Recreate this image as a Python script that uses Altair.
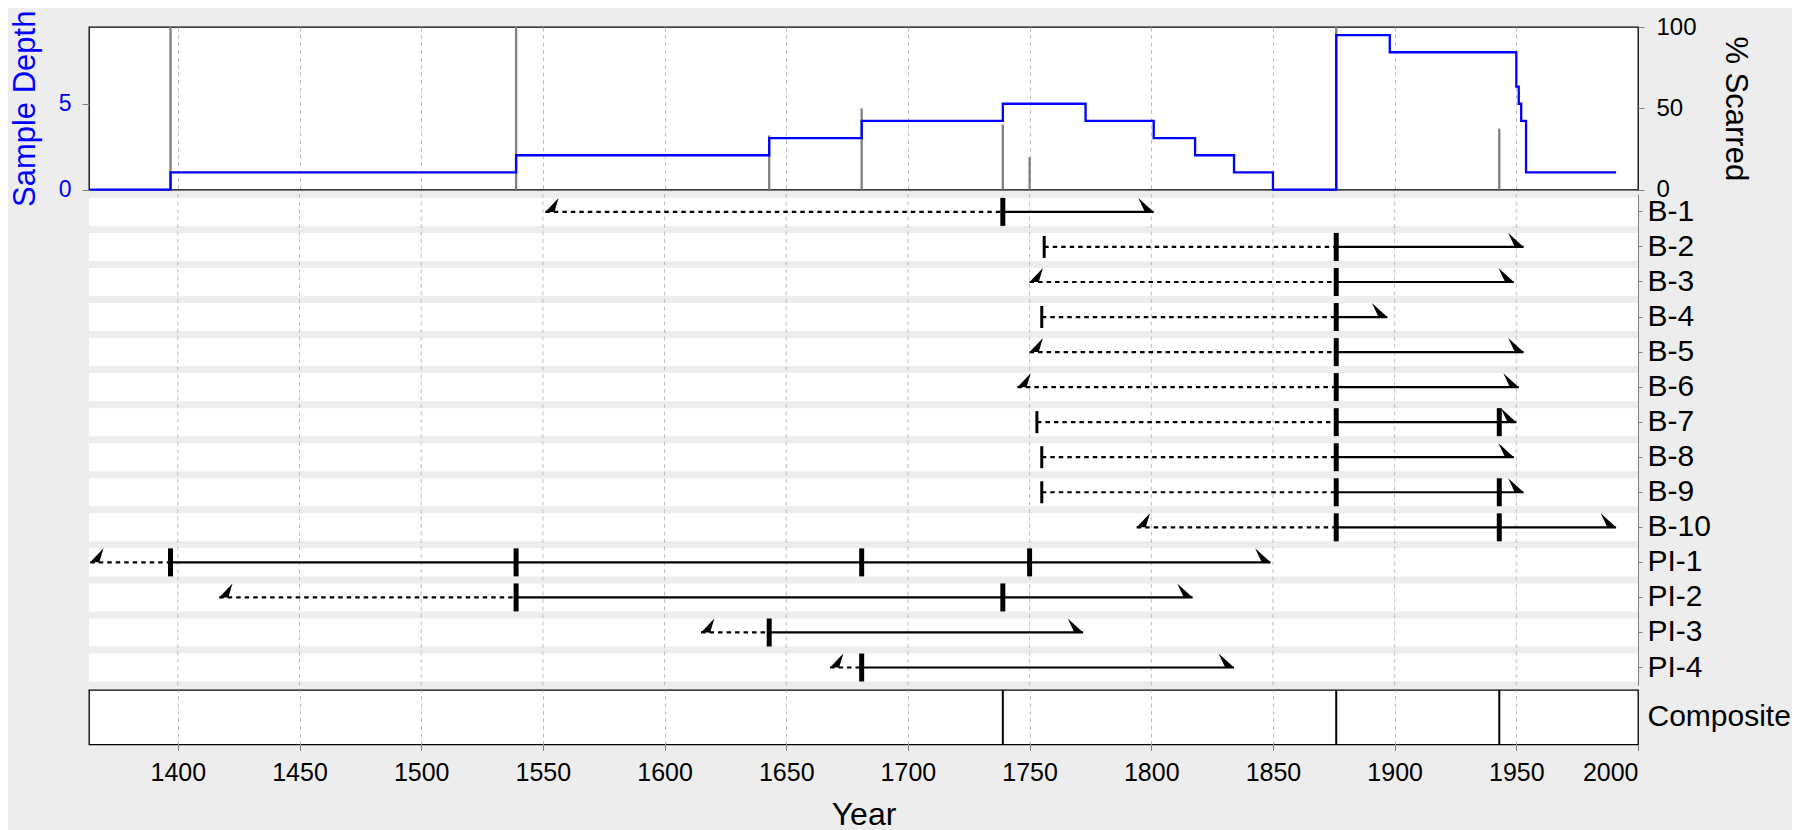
import altair as alt
import pandas as pd

# ---------------- data ----------------
series = ["B-1", "B-2", "B-3", "B-4", "B-5", "B-6", "B-7", "B-8", "B-9", "B-10",
          "PI-1", "PI-2", "PI-3", "PI-4"]
first_year = [1551, 1756, 1750, 1755, 1750, 1745, 1753, 1755, 1755, 1794,
              1364, 1417, 1615, 1668]
first_type = ["inner", "pith", "inner", "pith", "inner", "inner", "pith", "pith", "pith", "inner",
              "inner", "inner", "inner", "inner"]
recorder_start = [1739, 1876, 1876, 1876, 1876, 1876, 1876, 1876, 1876, 1876,
                  1397, 1539, 1643, 1681]
last_year = [1801, 1953, 1949, 1897, 1953, 1951, 1950, 1949, 1953, 1991,
             1849, 1817, 1772, 1834]

scar_series = ["B-1", "B-2", "B-3", "B-4", "B-5", "B-6", "B-7", "B-8", "B-9", "B-10",
               "B-7", "B-9", "B-10",
               "PI-1", "PI-1", "PI-1", "PI-1", "PI-2", "PI-2", "PI-3", "PI-4"]
scar_year = [1739, 1876, 1876, 1876, 1876, 1876, 1876, 1876, 1876, 1876,
             1943, 1943, 1943,
             1397, 1539, 1681, 1750, 1539, 1739, 1643, 1681]

depth_year = [1364, 1397, 1539, 1643, 1681, 1739, 1773, 1801, 1818, 1834, 1850,
              1876, 1898, 1950, 1951, 1952, 1954, 1991]
depth_value = [0, 1, 2, 3, 4, 5, 4, 3, 2, 1, 0, 9, 8, 6, 5, 4, 1, 1]

pct_year = [1397, 1539, 1643, 1681, 1739, 1750, 1876, 1943]
pct_value = [100, 100, 33.3, 50, 40, 20, 100, 37.5]

composite_year = [1739, 1876, 1943]

x_ticks = [1400, 1450, 1500, 1550, 1600, 1650, 1700, 1750, 1800, 1850, 1900, 1950, 2000]
x_domain = [1363.5, 2000]

# ---------------- styling ----------------
W = 1549
BG = "#EDEDED"
GRID = "#BEBEBE"
TICKC = "#7F7F7F"
FONT = "Liberation Sans"
DASH = [4.5, 4]
# hide the gridline that would sit on the right border of the boxed panels
GRID_OPACITY = {"condition": {"test": "datum.value >= 2000", "value": 0}, "value": 1}

x_scale = alt.Scale(domain=x_domain, nice=False, zero=False)
grid_axis = alt.Axis(values=x_ticks, labels=False, ticks=False, domain=False, grid=True,
                     gridDash=[4, 3.5], gridColor=GRID, gridWidth=1,
                     gridOpacity=GRID_OPACITY, title=None)

# ---------------- top panel: sample depth + % scarred ----------------
depth_df = pd.DataFrame({"year": depth_year, "depth": depth_value})
pct_df = pd.DataFrame({"year": pct_year, "pct": pct_value, "base": [0] * len(pct_year)})

pct_rules = alt.Chart(pct_df).mark_rule(color="#808080", strokeWidth=2.3).encode(
    x=alt.X("year:Q", scale=x_scale, axis=grid_axis),
    y=alt.Y("pct:Q", scale=alt.Scale(domain=[0, 100], nice=False),
            axis=alt.Axis(orient="right", values=[0, 50, 100], title="% Scarred",
                          titleAngle=90, titleFontSize=31, titlePadding=22,
                          labelFontSize=24, labelPadding=12, tickSize=6,
                          tickColor=TICKC, domain=False, grid=False)),
    y2="base:Q",
)

depth_line = alt.Chart(depth_df).mark_line(interpolate="step-after", color="#0000FF",
                                           strokeWidth=2.3).encode(
    x=alt.X("year:Q", scale=x_scale, axis=grid_axis),
    y=alt.Y("depth:Q", scale=alt.Scale(domain=[0, 9.47], nice=False),
            axis=alt.Axis(orient="left", values=[0, 5], title="Sample Depth",
                          titleColor="#0000FF", labelColor="#0000FF",
                          titleFontSize=31, titlePadding=17,
                          labelFontSize=23, labelPadding=11, tickSize=7,
                          tickColor=TICKC, domain=False, grid=False)),
)

top = alt.layer(pct_rules, depth_line).resolve_scale(y="independent").properties(
    width=W, height=162.6,
    view=alt.ViewBackground(fill="white", stroke="black", strokeWidth=1.3),
)

# ---------------- middle panel: series ----------------
ser_df = pd.DataFrame({"series": series, "first": first_year, "ftype": first_type,
                       "rec": recorder_start, "last": last_year})
scar_df = pd.DataFrame({"series": scar_series, "year": scar_year})
tick_df = pd.DataFrame({"year": x_ticks})

y_enc = alt.Y("series:N", sort=series,
              scale=alt.Scale(paddingInner=0.2, paddingOuter=0.11),
              axis=alt.Axis(orient="right", title=None, labelFontSize=30, labelPadding=5,
                            tickSize=4, tickColor=TICKC, domainColor=TICKC, labelColor="black"))

bands = alt.Chart(ser_df).mark_rect(color="white").encode(
    x=alt.value(0), x2=alt.value(W), y=y_enc)

grid_mid = alt.Chart(tick_df).transform_filter(alt.datum.year < 2000).mark_rule(
    color=GRID, strokeDash=[4, 3.5], strokeWidth=1).encode(
    x=alt.X("year:Q", scale=x_scale, axis=None))

null_lines = alt.Chart(ser_df).mark_rule(color="black", strokeWidth=2.2, strokeDash=DASH).encode(
    x=alt.X("first:Q", scale=x_scale, axis=None), x2="rec:Q", y=y_enc)

rec_lines = alt.Chart(ser_df).mark_rule(color="black", strokeWidth=2.2).encode(
    x=alt.X("rec:Q", scale=x_scale, axis=None), x2="last:Q", y=y_enc)

scars = alt.Chart(scar_df).mark_tick(color="black", thickness=5, size=28, opacity=1).encode(
    x=alt.X("year:Q", scale=x_scale, axis=None), y=y_enc)

piths = alt.Chart(ser_df).transform_filter(alt.datum.ftype == "pith").mark_tick(
    color="black", thickness=3, size=22, opacity=1).encode(
    x=alt.X("first:Q", scale=x_scale, axis=None), y=y_enc)

inner = alt.Chart(ser_df).transform_filter(alt.datum.ftype == "inner").mark_point(
    shape="M0,0L0.95,-1L0.65,0Z", size=784, filled=True, color="black", opacity=1,
    strokeWidth=0).encode(
    x=alt.X("first:Q", scale=x_scale, axis=None), y=y_enc)

outer = alt.Chart(ser_df).mark_point(
    shape="M0,0L-1.1,-1L-0.63,0Z", size=784, filled=True, color="black", opacity=1,
    strokeWidth=0).encode(
    x=alt.X("last:Q", scale=x_scale, axis=None), y=y_enc)

middle = alt.layer(bands, grid_mid, null_lines, rec_lines, scars, piths, inner, outer).properties(
    width=W, height=491.4,
    view=alt.ViewBackground(fill="transparent", stroke="transparent"),
)

# ---------------- bottom panel: composite ----------------
comp_df = pd.DataFrame({"year": composite_year})
label_df = pd.DataFrame({"label": ["Composite"]})

comp_label = alt.Chart(label_df).mark_rect(opacity=0).encode(
    x=alt.value(0), x2=alt.value(W),
    y=alt.Y("label:N", scale=alt.Scale(paddingInner=0, paddingOuter=0),
            axis=alt.Axis(orient="right", title=None, labelFontSize=30, labelPadding=9,
                          ticks=False, domain=False, labelColor="black")),
)

comp_rules = alt.Chart(comp_df).mark_rule(color="black", strokeWidth=2).encode(
    x=alt.X("year:Q", scale=x_scale,
            axis=alt.Axis(values=x_ticks, format="d", title="Year", titleFontSize=32,
                          titlePadding=14, labelFontSize=25, labelPadding=10, tickSize=6,
                          tickColor=TICKC, domain=False, grid=True, gridDash=[4, 3.5],
                          gridColor=GRID, gridWidth=1, gridOpacity=GRID_OPACITY,
                          labelColor="black")),
)

bottom = alt.layer(comp_label, comp_rules).properties(
    width=W, height=54.4,
    view=alt.ViewBackground(fill="white", stroke="black", strokeWidth=1.3),
)

chart = alt.vconcat(top, middle, bottom, spacing=4, bounds="flush").properties(
    padding={"left": 0, "top": 1, "right": 0, "bottom": 0},
).configure(
    font=FONT, background=BG,
).configure_axis(
    labelFont=FONT, titleFont=FONT, titleFontWeight="normal", titleColor="black",
).configure_view(
    stroke="transparent",
)

chart.save("out.html", embed_options={"renderer": "svg", "actions": False})
